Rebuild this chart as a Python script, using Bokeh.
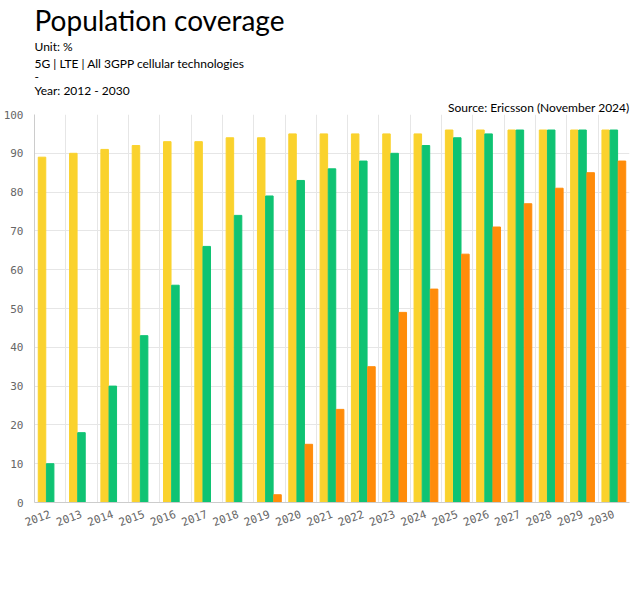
from bokeh.plotting import figure
from bokeh.models import ColumnDataSource, Range1d, FixedTicker, Title, Legend, LegendItem
from bokeh.transform import dodge
from bokeh.embed import file_html
from bokeh.resources import INLINE

years = list(range(2012, 2031))
all3gpp = [89, 90, 91, 92, 93, 93, 94, 94, 95, 95, 95, 95, 95, 96, 96, 96, 96, 96, 96]
lte = [10, 18, 30, 43, 56, 66, 74, 79, 83, 86, 88, 90, 92, 94, 95, 96, 96, 96, 96]
g5 = [0, 0, 0, 0, 0, 0, 0, 2, 15, 24, 35, 49, 55, 64, 71, 77, 81, 85, 88]

src = ColumnDataSource(dict(x=years, a=all3gpp, l=lte, g=g5))

p = figure(frame_width=595, frame_height=388, output_backend="svg", toolbar_location=None,
           x_range=Range1d(2011.5, 2030.5), y_range=Range1d(0, 100), min_border_left=29,
           min_border_right=4, min_border_bottom=0)
bw = 0.24
r1 = p.vbar(x=dodge("x", -0.26, range=p.x_range), top="a", width=bw, source=src, color="#FAD22D")
r2 = p.vbar(x=dodge("x", 0.0, range=p.x_range), top="l", width=bw, source=src, color="#0FC373")
r3 = p.vbar(x=dodge("x", 0.26, range=p.x_range), top="g", width=bw, source=src, color="#FF8C0A")

p.xaxis.ticker = FixedTicker(ticks=years)
p.xgrid.ticker = FixedTicker(ticks=[y - 0.5 for y in years] + [2030.5])
p.yaxis.ticker = FixedTicker(ticks=list(range(0, 101, 10)))
for ax in (p.xaxis[0], p.yaxis[0]):
    ax.major_label_text_font = "DejaVu Sans Mono"
    ax.major_label_text_color = "#666666"
    ax.major_label_text_font_size = "11px"
    ax.major_tick_line_color = None
    ax.minor_tick_line_color = None
    ax.axis_line_color = "#cccccc"
p.xaxis.major_label_orientation = 0.35
p.grid.grid_line_color = "#e6e6e6"
p.outline_line_color = None

legend = Legend(items=[LegendItem(label="5G", renderers=[r3]),
                       LegendItem(label="LTE", renderers=[r2]),
                       LegendItem(label="All 3GPP cellular technologies", renderers=[r1])],
                orientation="horizontal", location="center", border_line_color=None,
                label_text_font="Lato", label_text_font_size="12px", label_text_color="#555555",
                glyph_width=12, glyph_height=12, spacing=25, margin=4, padding=4)
p.add_layout(legend, "below")

p.add_layout(Title(text="Source: Ericsson (November 2024)", align="right", text_font="Lato",
                   text_font_size="12px", text_font_style="normal", text_color="#000000",
                   standoff=0), "above")
for t in ["Year: 2012 - 2030", "-", "5G | LTE | All 3GPP cellular technologies", "Unit: %"]:
    p.add_layout(Title(text=t, text_font="Lato", text_font_size="12px", text_font_style="normal",
                       text_color="#000000", standoff=0), "above")
p.add_layout(Title(text="Population coverage", text_font="Lato", text_font_size="28px",
                   text_font_style="normal", text_color="#000000", standoff=0), "above")

open("out.html", "w").write(file_html(p, INLINE))
